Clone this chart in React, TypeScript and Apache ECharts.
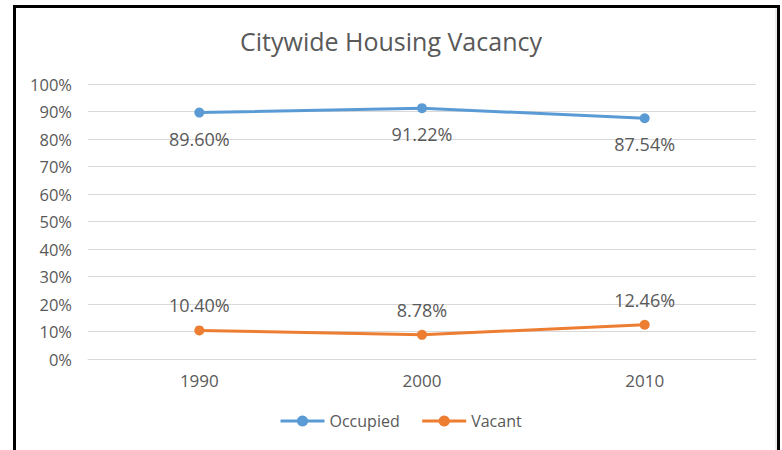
import React, { useEffect, useRef } from "react";
import * as echarts from "echarts";

const categories = ["1990", "2000", "2010"];
const occupied = [89.6, 91.22, 87.54];
const vacant = [10.4, 8.78, 12.46];
const seriesNames = ["Occupied", "Vacant"];
const titleText = "Citywide Housing Vacancy";

const TEXT = "#595959";
const FONT = "'Open Sans', 'Noto Sans', sans-serif";

export default function App() {
  const ref = useRef<HTMLDivElement>(null);
  useEffect(() => {
    if (!ref.current) return;
    const chart = echarts.init(ref.current, null, { renderer: "svg" });
    chart.setOption({
      animation: false,
      backgroundColor: "#ffffff",
      textStyle: { fontFamily: FONT, color: TEXT },
      title: {
        text: titleText,
        left: "center",
        top: 28,
        padding: 0,
        textStyle: { fontFamily: FONT, fontSize: 25, fontWeight: "normal", color: TEXT },
      },
      grid: { left: 88, right: 26, top: 84, bottom: 91, containLabel: false },
      legend: {
        data: seriesNames,
        left: 279,
        top: 413,
        itemWidth: 44,
        itemHeight: 14,
        itemGap: 21,
        padding: 0,
        lineStyle: { width: 3 },
        textStyle: { fontFamily: FONT, fontSize: 16, color: TEXT },
      },
      xAxis: {
        type: "category",
        data: categories,
        boundaryGap: true,
        axisLine: { show: true, lineStyle: { color: "#D9D9D9", width: 1 } },
        axisTick: { show: false },
        axisLabel: { fontFamily: FONT, fontSize: 17, color: TEXT, margin: 13 },
      },
      yAxis: {
        type: "value",
        min: 0,
        max: 100,
        interval: 10,
        axisLine: { show: false },
        axisTick: { show: false },
        axisLabel: { fontFamily: FONT, fontSize: 16.5, color: TEXT, margin: 16, formatter: "{value}%" },
        splitLine: { lineStyle: { color: "#D9D9D9", width: 1 } },
      },
      series: [
        {
          name: seriesNames[0],
          type: "line",
          data: occupied,
          symbol: "circle",
          symbolSize: 10,
          lineStyle: { width: 3, color: "#5B9BD5" },
          itemStyle: { color: "#5B9BD5" },
          label: {
            show: true,
            position: "bottom",
            distance: 12,
            fontFamily: FONT,
            fontSize: 18,
            color: TEXT,
            formatter: (p: any) => p.value.toFixed(2) + "%",
          },
        },
        {
          name: seriesNames[1],
          type: "line",
          data: vacant,
          symbol: "circle",
          symbolSize: 10,
          lineStyle: { width: 3, color: "#ED7D31" },
          itemStyle: { color: "#ED7D31" },
          label: {
            show: true,
            position: "top",
            distance: 11,
            fontFamily: FONT,
            fontSize: 18,
            color: TEXT,
            formatter: (p: any) => p.value.toFixed(2) + "%",
          },
        },
      ],
      graphic: [
        {
          type: "line",
          shape: { x1: 776, y1: 8, x2: 776, y2: 450 },
          style: { stroke: "#D9D9D9", lineWidth: 1 },
          silent: true,
        },
        {
          type: "rect",
          shape: { x: 14.5, y: 6.5, width: 764, height: 500 },
          style: { fill: "none", stroke: "#000000", lineWidth: 3 },
          silent: true,
        },
      ],
    });
    return () => chart.dispose();
  }, []);
  return (
    <div
      ref={ref}
      style={{ position: "absolute", left: 0, top: 0, width: 782, height: 450 }}
    />
  );
}
